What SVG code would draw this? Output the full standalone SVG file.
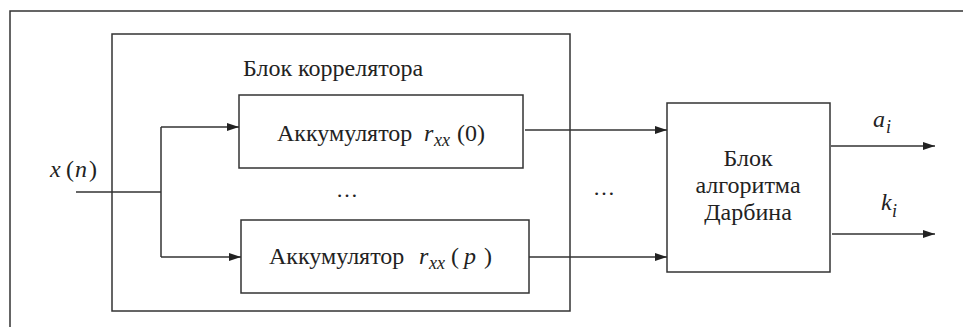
<svg xmlns="http://www.w3.org/2000/svg" width="963" height="327" viewBox="0 0 963 327">
<style>
  .box{fill:none;stroke:#333;stroke-width:1.5}
  .ln{fill:none;stroke:#333;stroke-width:1.5}
  .t{font-family:'Liberation Serif','DejaVu Serif',serif;font-size:24px;fill:#222}
  .it{font-style:italic}
  .sub{font-style:italic;font-size:18px}
  .mid{text-anchor:middle}
</style>
<defs>
  <marker id="arr" viewBox="0 0 12 8" refX="12" refY="4" markerWidth="12" markerHeight="8" markerUnits="userSpaceOnUse" orient="auto">
    <path d="M0,0 L12,4 L0,8 Z" fill="#222"/>
  </marker>
</defs>
<rect x="0" y="0" width="963" height="327" fill="#fff"/>
<g id="frame">
  <rect class="box" x="10" y="11" width="980" height="340"/>
</g>
<g id="correlator">
  <rect class="box" x="112" y="34" width="458" height="277"/>
  <text class="t" x="243" y="76">Блок коррелятора</text>
  <text class="t" x="336" y="197" style="font-size:22px">…</text>
</g>
<g id="acc0">
  <rect class="box" x="239" y="95" width="284" height="73"/>
  <text class="t" x="277" y="141">Аккумулятор</text>
  <text class="t it" x="424" y="141">r</text>
  <text class="t sub" x="434" y="146">xx</text>
  <text class="t" x="457" y="141">(0)</text>
</g>
<g id="accp">
  <rect class="box" x="241" y="220" width="288" height="73"/>
  <text class="t" x="269" y="264">Аккумулятор</text>
  <text class="t it" x="419" y="264">r</text>
  <text class="t sub" x="429" y="269">xx</text>
  <text class="t" x="451" y="264">(</text>
  <text class="t it" x="464" y="264">p</text>
  <text class="t" x="484" y="264">)</text>
</g>
<g id="durbin">
  <rect class="box" x="667" y="103" width="163" height="169"/>
  <text class="t mid" x="748" y="166">Блок</text>
  <text class="t mid" x="748" y="193">алгоритма</text>
  <text class="t mid" x="748" y="220">Дарбина</text>
</g>
<g id="labels">
  <text class="t it" x="50" y="177">x</text>
  <text class="t" x="66" y="177">(</text>
  <text class="t it" x="75" y="177">n</text>
  <text class="t" x="89" y="177">)</text>
  <text class="t" x="593" y="195" style="font-size:22px">…</text>
  <text class="t it" x="873" y="127">a</text>
  <text class="t sub" x="886" y="133">i</text>
  <text class="t it" x="881" y="210">k</text>
  <text class="t sub" x="892" y="217">i</text>
</g>
<g id="connectors">
  <polyline class="ln" points="76,192 161,192"/>
  <polyline class="ln" points="161,127 161,257"/>
  <polyline class="ln" points="161,127 239,127" marker-end="url(#arr)"/>
  <polyline class="ln" points="161,257 241,257" marker-end="url(#arr)"/>
  <polyline class="ln" points="525,130 667,130" marker-end="url(#arr)"/>
  <polyline class="ln" points="529,257 667,257" marker-end="url(#arr)"/>
  <polyline class="ln" points="831,146 935,146" marker-end="url(#arr)"/>
  <polyline class="ln" points="832,234 935,234" marker-end="url(#arr)"/>
</g>
</svg>
